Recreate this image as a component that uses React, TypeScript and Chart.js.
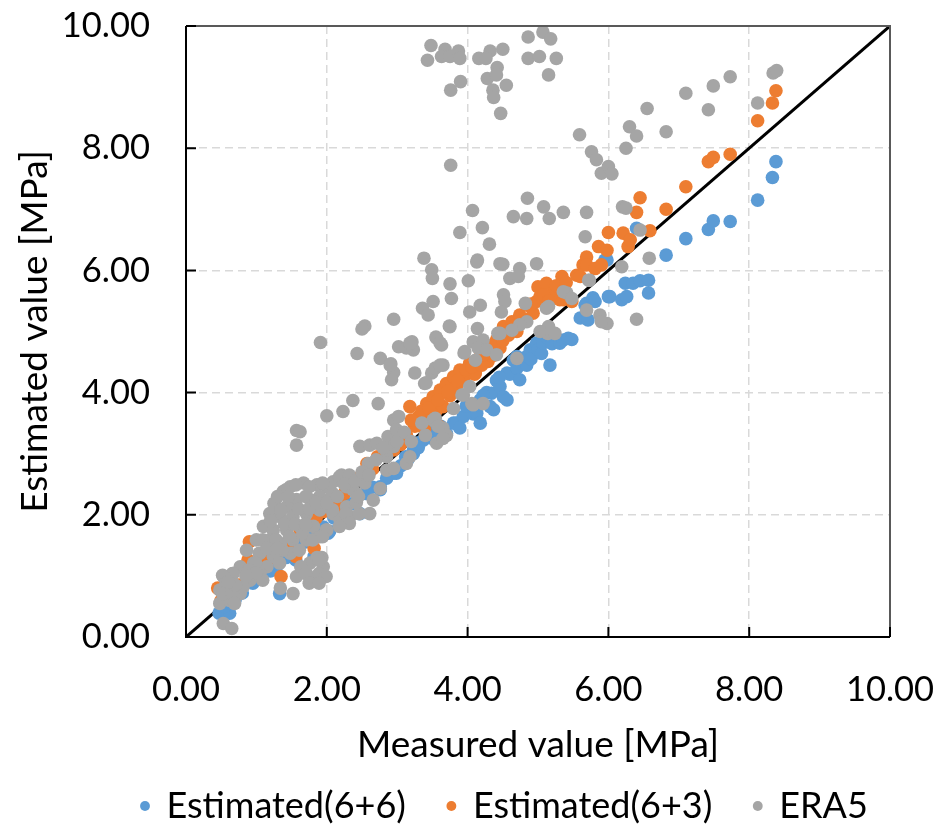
import React, { useEffect, useRef } from 'react';
import { Chart, registerables } from 'chart.js';

Chart.register(...registerables);

// ---------- data ----------
const seriesNames = ['Estimated(6+6)', 'Estimated(6+3)', 'ERA5'];
const seriesColors = ['#5B9BD5', '#ED7D31', '#A5A5A5'];
const axisTicks = [0, 2, 4, 6, 8, 10];
const identityLine = [0, 10];
const xTitle = 'Measured value [MPa]';
const yTitle = 'Estimated value [MPa]';

const estimated66: [number, number][] = [
  [0.47, 0.39], [0.62, 0.39], [0.55, 0.5], [0.7, 0.62], [0.8, 0.72], [0.95, 0.88], [1.05, 0.98], [1.2, 1.08],
  [1.33, 0.71], [1.3, 1.18], [1.42, 1.3], [1.56, 1.26], [1.55, 1.45], [1.68, 1.55], [1.82, 1.32], [1.8, 1.65],
  [1.95, 1.8], [2.04, 1.73], [2.02, 1.7], [2.1, 1.95], [2.25, 2.05], [2.35, 2.18], [2.47, 2.02], [2.55, 2.35],
  [2.65, 2.45], [2.76, 2.46], [2.76, 2.41], [2.85, 2.6], [2.95, 2.68], [2.99, 2.68], [3.05, 2.8], [3.15, 2.9],
  [3.23, 3.0], [3.23, 3.06], [3.3, 3.1], [3.37, 3.22], [3.42, 3.28], [3.5, 3.25], [3.55, 3.4], [3.65, 3.3],
  [3.7, 3.33], [3.8, 3.5], [3.84, 3.5], [3.89, 3.42], [3.94, 3.61], [4.03, 3.77], [4.08, 3.65], [4.13, 3.66],
  [4.18, 3.88], [4.18, 3.5], [4.27, 4.0], [4.32, 3.77], [4.34, 3.99], [4.37, 3.72], [4.41, 4.2], [4.46, 4.1],
  [4.51, 3.93], [4.56, 4.32], [4.56, 3.88], [4.6, 4.3], [4.65, 4.53], [4.7, 4.59], [4.7, 4.4], [4.74, 4.21],
  [4.84, 4.45], [4.85, 4.6], [4.89, 4.7], [4.9, 4.55], [4.98, 4.81], [5.0, 4.7], [5.05, 4.64], [5.07, 4.81],
  [5.12, 4.91], [5.17, 4.45], [5.2, 4.8], [5.31, 4.81], [5.36, 4.86], [5.43, 4.89], [5.48, 4.87], [5.6, 5.22],
  [5.67, 5.43], [5.69, 5.46], [5.71, 5.19], [5.78, 5.55], [5.81, 5.49], [5.95, 6.17], [5.98, 6.17], [6.0, 5.57],
  [6.02, 5.57], [6.19, 5.52], [6.24, 5.79], [6.26, 5.57], [6.35, 5.79], [6.4, 6.69], [6.45, 5.83], [6.57, 5.84],
  [6.57, 5.63], [6.82, 6.25], [7.1, 6.52], [7.42, 6.67], [7.49, 6.81], [7.73, 6.8], [8.12, 7.15], [8.33, 7.52],
  [8.38, 7.78], [3.12, 2.95], [3.3, 3.18], [3.62, 3.45], [3.98, 3.78], [4.22, 3.95], [4.45, 4.25],
];

const estimated63: [number, number][] = [
  [0.45, 0.8], [0.5, 0.6], [0.6, 0.7], [0.75, 0.85], [0.88, 1.26], [0.9, 1.56], [0.95, 1.0], [1.05, 1.1],
  [1.15, 1.25], [1.25, 1.35], [1.35, 0.99], [1.35, 1.45], [1.48, 1.42], [1.5, 1.6], [1.56, 1.32], [1.62, 1.75],
  [1.75, 1.85], [1.82, 1.45], [1.85, 1.95], [1.95, 2.05], [2.05, 2.15], [2.16, 2.13], [2.18, 2.19], [2.25, 2.35],
  [2.35, 2.45], [2.45, 2.6], [2.57, 2.84], [2.55, 2.7], [2.65, 2.75], [2.72, 2.95], [2.85, 3.0], [2.95, 3.06],
  [3.05, 3.15], [3.13, 3.3], [3.18, 3.77], [3.25, 3.45], [3.3, 3.6], [3.39, 3.39], [3.42, 3.82], [3.47, 3.61],
  [3.51, 3.93], [3.55, 3.7], [3.61, 3.44], [3.61, 4.04], [3.65, 3.77], [3.7, 4.15], [3.75, 3.95], [3.8, 4.26],
  [3.84, 4.1], [3.89, 4.37], [3.95, 4.2], [4.03, 4.48], [4.1, 4.3], [4.11, 4.32], [4.18, 4.59], [4.27, 4.75],
  [4.29, 4.51], [4.35, 4.6], [4.41, 4.86], [4.46, 4.73], [4.51, 5.08], [4.58, 4.94], [4.63, 5.16], [4.7, 5.0],
  [4.74, 5.27], [4.84, 5.43], [4.93, 5.3], [4.98, 5.49], [5.0, 5.73], [5.03, 5.57], [5.12, 5.79], [5.22, 5.65],
  [5.31, 5.52], [5.34, 5.9], [5.36, 5.52], [5.48, 5.49], [5.55, 5.92], [5.6, 5.9], [5.64, 6.09], [5.69, 6.22],
  [5.69, 6.09], [5.81, 6.03], [5.86, 6.39], [5.9, 6.09], [5.98, 6.33], [6.0, 6.62], [6.21, 6.61], [6.28, 6.39],
  [6.31, 6.5], [6.4, 6.95], [6.45, 7.19], [6.59, 6.65], [6.82, 7.0], [7.1, 7.37], [7.42, 7.78], [7.49, 7.85],
  [7.73, 7.9], [8.12, 8.45], [8.33, 8.74], [8.38, 8.94],
  [3.2, 3.55], [3.35, 3.7], [3.45, 3.75], [3.58, 3.88], [3.72, 4.02], [3.86, 4.2], [3.98, 4.38], [4.06, 4.42],
  [4.2, 4.45], [4.22, 4.62], [4.38, 4.8], [4.5, 4.85], [4.55, 5.0], [4.68, 5.1], [4.8, 5.2], [4.9, 5.45],
  [5.08, 5.6], [5.15, 5.5], [5.26, 5.75], [5.4, 5.8],
];

const era5: [number, number][] = [
  // upper outliers
  [3.48, 9.68], [3.43, 9.44], [3.68, 9.62], [3.63, 9.5], [3.75, 9.5], [3.87, 9.59], [3.89, 9.47], [3.9, 9.09],
  [3.76, 8.95], [4.16, 9.47], [4.32, 9.59], [4.5, 9.62], [4.26, 9.47], [4.42, 9.32], [4.28, 9.14], [4.41, 9.2],
  [4.55, 9.03], [4.36, 8.95], [4.37, 8.83], [4.47, 8.57], [4.86, 9.82], [5.07, 9.9], [5.18, 9.79], [4.86, 9.47],
  [5.02, 9.5], [5.26, 9.47], [5.15, 9.2], [3.76, 7.72],
  // right-hand group
  [5.59, 8.22], [5.76, 7.94], [5.83, 7.81], [5.9, 7.59], [6.0, 7.7], [6.05, 7.58], [6.25, 8.0], [6.3, 8.35],
  [6.4, 8.2], [6.55, 8.65], [6.82, 8.27], [7.1, 8.9], [7.42, 8.63], [7.49, 9.02], [7.73, 9.17], [8.12, 8.74],
  [8.34, 9.23], [8.39, 9.27], [6.2, 7.04], [6.25, 7.02], [5.08, 7.04], [5.16, 6.85], [5.36, 6.95], [5.69, 6.95],
  [5.67, 6.55], [6.45, 6.66], [6.58, 6.2], [6.19, 6.06], [5.73, 5.84], [6.4, 5.2], [5.88, 5.27], [5.98, 5.13],
  [5.41, 5.63], [5.15, 5.41], [5.14, 4.97], [5.24, 4.97],
  // middle
  [4.07, 6.98], [4.65, 6.88], [4.85, 7.18], [4.84, 6.85], [4.21, 6.7], [3.89, 6.62], [4.31, 6.43], [3.38, 6.2],
  [4.14, 6.17], [3.49, 6.01], [3.5, 5.87], [4.5, 6.1], [4.74, 6.03], [4.6, 5.87], [4.72, 5.9], [3.75, 5.78],
  [4.01, 5.83], [3.77, 5.54], [3.51, 5.49], [3.36, 5.38], [3.44, 5.27], [4.03, 5.32], [4.18, 5.43], [4.51, 5.6],
  [4.53, 5.49], [4.48, 5.32], [2.95, 5.2], [2.54, 5.09], [2.5, 5.04], [3.74, 5.09], [4.14, 5.05], [1.91, 4.82],
  [2.43, 4.64], [2.76, 4.56], [3.02, 4.75], [3.21, 4.83], [3.23, 4.7], [3.13, 4.73], [3.55, 4.91], [3.63, 4.78],
  [2.91, 4.47], [2.95, 4.33], [3.25, 4.32], [3.49, 4.32], [3.65, 4.45], [3.95, 4.65], [4.08, 4.83], [4.43, 4.97],
  [4.46, 6.11], [4.13, 6.14], [4.98, 6.11], [4.82, 5.46], [4.84, 5.16], [4.74, 5.11], [4.63, 5.02], [4.46, 4.97],
  [4.22, 4.86], [4.15, 4.73], [4.27, 4.7], [4.11, 4.53], [4.41, 4.62], [4.7, 4.56], [3.96, 4.67], [3.56, 4.89],
  [3.61, 4.81], [3.75, 5.08], [3.54, 4.4], [3.39, 4.15], [3.94, 3.96], [4.06, 3.82], [3.8, 3.74], [3.51, 3.55],
  [3.65, 3.42], [3.7, 3.3], [5.12, 5.38], [5.15, 5.08], [5.03, 5.0], [5.36, 5.65], [5.48, 5.54], [5.72, 5.84],
  [5.69, 5.35], [5.9, 5.16], [2.92, 4.21], [3.41, 4.16], [3.18, 4.81], [2.9, 4.45], [3.61, 4.45], [3.92, 3.96],
  // lower band
  [1.57, 3.38], [1.57, 3.14], [1.62, 3.36], [2.0, 3.62], [2.23, 3.69], [2.37, 3.87], [2.73, 3.82], [2.47, 3.12],
  [2.61, 3.14], [2.95, 3.55], [3.02, 3.61], [2.87, 3.28], [2.95, 3.12], [2.99, 3.39], [3.54, 3.58], [3.58, 3.45],
  [3.56, 3.17], [3.65, 3.25], [4.08, 3.8], [4.22, 3.82], [4.03, 4.1], [2.59, 2.84], [2.85, 2.73], [3.13, 2.84],
  [3.18, 2.95], [2.85, 2.95], [2.71, 3.17], [2.85, 3.06], [2.95, 2.76], [2.21, 2.65], [2.28, 2.46], [2.42, 2.35],
  [2.54, 2.52], [2.66, 2.24], [2.61, 2.02], [2.76, 2.43], [1.38, 2.38], [1.26, 2.19], [1.48, 2.46], [1.67, 2.52],
  [1.86, 2.49], [2.0, 2.46], [2.09, 2.54], [1.9, 2.3], [1.76, 2.25], [1.57, 2.25], [1.43, 2.13], [1.19, 2.02],
  [1.34, 1.97], [1.52, 1.97], [1.71, 2.02], [1.9, 2.08], [2.09, 2.02], [2.28, 2.13], [2.33, 1.97], [2.19, 1.91],
  [1.1, 1.81], [1.24, 1.75], [1.43, 1.75], [1.62, 1.81], [1.81, 1.81], [2.0, 1.75], [1.0, 1.59], [1.19, 1.59],
  [1.34, 1.53], [1.52, 1.59], [1.71, 1.59], [1.9, 1.64], [0.86, 1.42], [1.05, 1.37], [1.24, 1.32], [1.48, 1.37],
  [1.15, 1.15], [0.96, 1.21], [0.77, 1.15], [0.91, 0.93], [1.05, 1.04], [1.76, 1.21], [1.71, 1.04], [1.86, 0.99],
  [1.95, 1.15], [1.93, 1.3], [1.57, 0.99], [1.86, 1.3], [1.34, 0.8], [1.52, 0.71], [0.53, 0.99], [0.67, 1.04],
  [0.48, 0.77], [0.58, 0.71], [0.48, 0.55], [0.62, 0.6], [0.53, 0.22], [0.65, 0.14], [0.81, 0.82], [0.77, 0.71],
  [1.25, 2.19], [1.42, 2.41], [1.56, 2.49], [1.75, 2.46], [1.94, 2.52], [2.18, 2.62], [2.32, 2.65], [2.08, 2.08],
  [2.27, 2.02], [2.32, 1.86], [2.18, 1.81], [1.99, 1.75], [1.09, 1.59], [1.28, 1.59], [1.47, 1.64], [1.66, 1.7],
  [1.8, 1.59], [1.94, 1.64], [1.04, 1.37], [1.37, 1.42], [1.61, 1.42], [0.99, 1.21], [1.33, 1.21], [0.9, 1.1],
  [0.66, 1.04], [0.52, 1.01], [1.09, 0.93], [0.57, 0.88], [0.52, 0.71], [0.66, 0.71], [0.69, 0.55], [1.63, 1.15],
  [1.7, 1.04], [1.75, 0.88], [1.89, 1.04], [1.99, 0.99], [1.89, 1.26], [1.89, 0.88], [1.35, 2.08], [1.7, 2.3],
  [2.08, 2.35], [2.37, 2.41], [2.46, 2.02], [2.42, 2.2],
  [1.2, 1.9], [1.3, 2.3], [1.45, 2.3], [1.6, 2.1], [1.75, 2.1], [1.85, 2.2], [2.0, 2.2], [2.15, 2.3],
  [2.25, 2.5], [2.4, 2.55], [2.5, 2.7], [2.6, 2.65], [2.7, 2.9], [2.8, 3.1], [3.0, 3.2], [3.1, 3.35],
  [3.2, 3.2], [3.35, 3.5], [3.4, 3.3], [1.15, 1.45], [1.3, 1.45], [1.4, 1.85], [1.55, 1.85], [1.7, 1.85],
  [1.0, 1.05], [0.85, 1.0], [0.7, 0.85], [0.6, 0.9], [2.45, 2.3],
];

// ---------- layout constants ----------
const CANVAS_W = 938;
const CANVAS_H = 840;
const FONT = 'Lato';
const TICK_SIZE = 34.5;
const TITLE_SIZE = 37;
const LEGEND_SIZE = 36;
const LEGEND_PAD = 42;
const LEGEND_START = 141.5;
const BOTTOM_PAD = 5.5;
const RIGHT_PAD = 48;
const PLOT_TOP = 26;
const PLOT_BOTTOM = 637;
const PLOT_LEFT = 186;
const Y_TITLE_CENTER = 35;
const X_TITLE_CENTER = 745;
const X_LABEL_CENTER = 690;
const Y_LABEL_RIGHT = 150;
const LEGEND_CENTER = 806;

const legendHeight = LEGEND_SIZE + LEGEND_PAD + 10;
const bottomPad = CANVAS_H - LEGEND_CENTER - LEGEND_SIZE / 2 - 10;
const legendTop = CANVAS_H - bottomPad - legendHeight;
const X_AXIS_H = legendTop - PLOT_BOTTOM;
const xTitlePadBottom = legendTop - X_TITLE_CENTER - TITLE_SIZE / 2;
const yTitlePadTop = Y_TITLE_CENTER - TITLE_SIZE / 2;
const xTickPad = X_LABEL_CENTER - PLOT_BOTTOM - TICK_SIZE / 2;
const yTickPad = PLOT_LEFT - Y_LABEL_RIGHT;

const toPoints = (arr: [number, number][]) => arr.map(([x, y]) => ({ x, y }));

const framePlugin = {
  id: 'frame',
  afterDatasetsDraw(chart: any) {
    const { ctx, chartArea: a, scales } = chart;
    ctx.save();
    ctx.lineWidth = 2;
    ctx.strokeStyle = '#595959';
    ctx.beginPath();
    ctx.moveTo(a.left, a.top);
    ctx.lineTo(a.right, a.top);
    ctx.lineTo(a.right, a.bottom);
    ctx.stroke();
    ctx.strokeStyle = '#000';
    ctx.beginPath();
    ctx.moveTo(a.left, a.top);
    ctx.lineTo(a.left, a.bottom);
    ctx.lineTo(a.right, a.bottom);
    ctx.stroke();
    ctx.beginPath();
    scales.x.ticks.forEach((t: any) => {
      const px = scales.x.getPixelForValue(t.value);
      ctx.moveTo(px, a.bottom);
      ctx.lineTo(px, a.bottom - 10);
    });
    scales.y.ticks.forEach((t: any) => {
      const py = scales.y.getPixelForValue(t.value);
      ctx.moveTo(a.left, py);
      ctx.lineTo(a.left + 10, py);
    });
    ctx.stroke();
    ctx.restore();
  },
};

// shift the (single-row) legend so that it starts where the reference legend starts
const legendShiftPlugin = {
  id: 'legendShift',
  afterLayout(chart: any) {
    const lg = chart.legend;
    if (!lg || !lg.lineWidths) return;
    const pad = lg.options.labels.padding;
    const start = (lg.left + pad + lg.right - lg.lineWidths[0]) / 2;
    const dx = LEGEND_START - start;
    lg.left += dx;
    lg.right += dx;
  },
};

export default function App() {
  const ref = useRef<HTMLCanvasElement | null>(null);

  useEffect(() => {
    if (!ref.current) return;
    const seriesData = [estimated66, estimated63, era5];
    const datasets: any[] = seriesData.map((d, i) => ({
      label: seriesNames[i],
      data: toPoints(d),
      backgroundColor: seriesColors[i],
      borderColor: seriesColors[i],
      borderWidth: 0,
      pointRadius: 6.8,
      pointHoverRadius: 6.8,
      pointStyle: 'circle',
      order: 3 - i,
    }));
    datasets.push({
      label: '1:1',
      data: identityLine.map((v) => ({ x: v, y: v })),
      showLine: true,
      borderColor: '#000',
      borderWidth: 3,
      pointRadius: 0,
      order: 4,
    });

    const tickFont = { family: FONT, size: TICK_SIZE, lineHeight: 1 };
    const titleFont = { family: FONT, size: TITLE_SIZE, lineHeight: 1 };
    const fmt = (v: any) => Number(v).toFixed(2);

    const chart = new Chart(ref.current, {
      type: 'scatter',
      data: { datasets },
      plugins: [framePlugin, legendShiftPlugin],
      options: {
        animation: false,
        responsive: false,
        layout: { padding: { top: PLOT_TOP, right: RIGHT_PAD, bottom: bottomPad, left: 0 } },
        plugins: {
          tooltip: { enabled: false },
          legend: {
            position: 'bottom',
            labels: {
              usePointStyle: true,
              pointStyle: 'circle',
              boxWidth: 7,
              boxHeight: 7,
              padding: LEGEND_PAD,
              color: '#000',
              font: { family: FONT, size: LEGEND_SIZE },
              filter: (item: any) => item.datasetIndex < 3,
              sort: (a: any, b: any) => a.datasetIndex - b.datasetIndex,
            },
          },
        },
        scales: {
          x: {
            type: 'linear',
            min: axisTicks[0],
            max: axisTicks[axisTicks.length - 1],
            afterBuildTicks: (s: any) => { s.ticks = axisTicks.map((v) => ({ value: v })); },
            ticks: { callback: fmt, font: tickFont, color: '#000', padding: xTickPad, maxRotation: 0, autoSkip: false },
            grid: { color: '#D9D9D9', lineWidth: 1.5, drawTicks: false },
            border: { display: false, dash: [8, 5] },
            title: {
              display: true,
              text: xTitle,
              color: '#000',
              font: titleFont,
              padding: { top: 0, bottom: xTitlePadBottom },
            },
            afterFit: (s: any) => {
              s.height = X_AXIS_H;
              s.paddingLeft = 0;
              s.paddingRight = 0;
            },
          },
          y: {
            type: 'linear',
            min: axisTicks[0],
            max: axisTicks[axisTicks.length - 1],
            afterBuildTicks: (s: any) => { s.ticks = axisTicks.map((v) => ({ value: v })); },
            ticks: { callback: fmt, font: tickFont, color: '#000', padding: yTickPad },
            grid: { color: '#D9D9D9', lineWidth: 1.5, drawTicks: false },
            border: { display: false, dash: [8, 5] },
            title: {
              display: true,
              text: yTitle,
              color: '#000',
              font: titleFont,
              padding: { top: yTitlePadTop, bottom: 0 },
            },
            afterFit: (s: any) => {
              s.width = PLOT_LEFT;
              s.paddingTop = 0;
              s.paddingBottom = 0;
            },
          },
        },
      } as any,
    });
    return () => chart.destroy();
  }, []);

  return (
    <div style={{ position: 'fixed', left: 0, top: 0, width: CANVAS_W, height: 825, overflow: 'hidden', background: '#fff' }}>
      <canvas ref={ref} width={CANVAS_W} height={CANVAS_H} style={{ display: 'block' }} />
    </div>
  );
}
